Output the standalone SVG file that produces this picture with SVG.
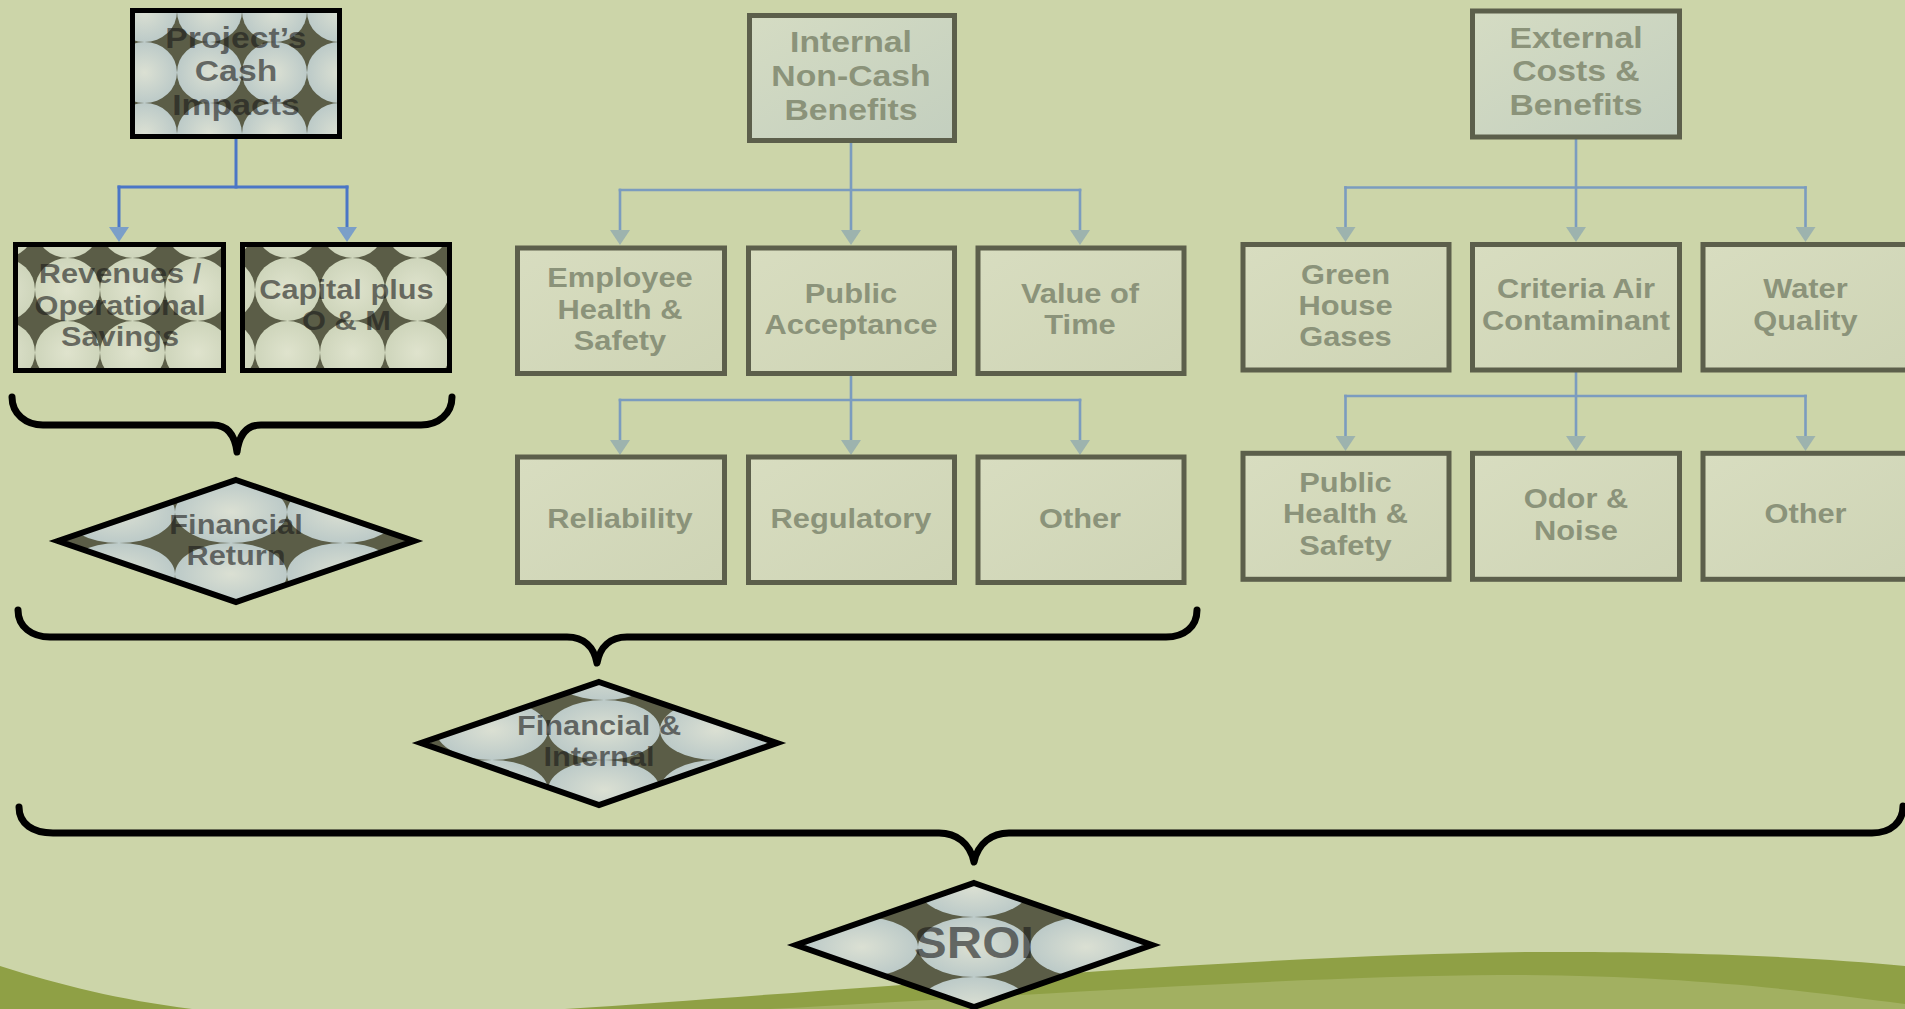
<svg xmlns="http://www.w3.org/2000/svg" width="1905" height="1009" viewBox="0 0 1905 1009">
  <style>
    .lbl { font-family: "Liberation Sans", Arial, sans-serif; font-weight: bold; text-anchor: middle; }
    .big { font-size: 30px; }
    .mid { font-size: 28px; }
    .huge { font-size: 45px; }
    .dim { fill: #8b937a; }
    .ink { fill: #1a1a1a; fill-opacity: 0.6; }
    .frame { stroke: #000; stroke-width: 5; }
    .soft { stroke: #5c5f4b; stroke-width: 5; }
    .gem { stroke: #000; stroke-width: 6; stroke-linejoin: miter; }
    .brace { fill: none; stroke: #000; stroke-width: 7; stroke-linecap: round; stroke-linejoin: round; }
    .wire { fill: none; stroke: #4a76c6; stroke-width: 3; stroke-linecap: square; }
    .wire-soft { fill: none; stroke: #7b9cbf; stroke-width: 2.6; stroke-linecap: square; }
    .star { fill: #5b5d47; }
  </style>
  <defs>
    <radialGradient id="glowCool" cx="50%" cy="50%" r="50%">
      <stop offset="0" stop-color="#dbe0d3"/>
      <stop offset="1" stop-color="#bccac8"/>
    </radialGradient>
    <radialGradient id="glowWarm" cx="50%" cy="50%" r="50%">
      <stop offset="0" stop-color="#dfe3cd"/>
      <stop offset="1" stop-color="#ced5bb"/>
    </radialGradient>
    <linearGradient id="paleTop" x1="0" y1="0" x2="1" y2="1">
      <stop offset="0" stop-color="#d5dcc3"/>
      <stop offset="1" stop-color="#c3cfbf"/>
    </linearGradient>
    <linearGradient id="paleRow" x1="0" y1="0" x2="1" y2="1">
      <stop offset="0" stop-color="#d8ddc0"/>
      <stop offset="1" stop-color="#ced4b5"/>
    </linearGradient>
    <!-- circle tiles: light discs touching on a dark ground, dark four-point stars between -->
    <pattern id="tileProject" patternUnits="userSpaceOnUse" x="177" y="42" width="65" height="61">
      <rect class="star" width="65" height="61"/>
      <ellipse cx="32.5" cy="30.5" rx="32.5" ry="30.5" fill="url(#glowCool)"/>
    </pattern>
    <pattern id="tileRevenue" patternUnits="userSpaceOnUse" x="35" y="258" width="65" height="63">
      <rect class="star" width="65" height="63"/>
      <ellipse cx="32.5" cy="31.5" rx="32.5" ry="31.5" fill="url(#glowWarm)"/>
    </pattern>
    <pattern id="tileCapital" patternUnits="userSpaceOnUse" x="255" y="258" width="65" height="63">
      <rect class="star" width="65" height="63"/>
      <ellipse cx="32.5" cy="31.5" rx="32.5" ry="31.5" fill="url(#glowWarm)"/>
    </pattern>
    <pattern id="tileReturn" patternUnits="userSpaceOnUse" x="175" y="481" width="112" height="62">
      <rect class="star" width="112" height="62"/>
      <ellipse cx="56" cy="31" rx="56" ry="31" fill="url(#glowCool)"/>
    </pattern>
    <pattern id="tileInternal" patternUnits="userSpaceOnUse" x="548" y="700" width="112" height="60">
      <rect class="star" width="112" height="60"/>
      <ellipse cx="56" cy="30" rx="56" ry="30" fill="url(#glowCool)"/>
    </pattern>
    <pattern id="tileSroi" patternUnits="userSpaceOnUse" x="918" y="917" width="112" height="60">
      <rect class="star" width="112" height="60"/>
      <ellipse cx="56" cy="30" rx="56" ry="30" fill="url(#glowCool)"/>
    </pattern>
    <marker id="headStrong" markerUnits="userSpaceOnUse" viewBox="0 0 15 20" markerWidth="15" markerHeight="20" refX="0" refY="10" orient="auto">
      <path d="M0,0 L15,10 L0,20 Z" fill="#7b9fc8"/>
    </marker>
    <marker id="headSoft" markerUnits="userSpaceOnUse" viewBox="0 0 15 20" markerWidth="15" markerHeight="20" refX="0" refY="10" orient="auto">
      <path d="M0,0 L15,10 L0,20 Z" fill="#9db3ae"/>
    </marker>
  </defs>

  <!-- slide ground and hills -->
  <rect width="1905" height="1009" fill="#ccd5a9"/>
  <path d="M0,966 C60,985 120,1000 192,1009 L0,1009 Z" fill="#8fa045"/>
  <path d="M565,1009 C850,990 1250,955 1530,952 C1700,951 1820,958 1905,966 V1009 Z" fill="#8fa045"/>
  <path d="M770,1009 C1000,997 1300,976 1500,975 C1680,975 1800,990 1905,1004 V1009 Z" fill="#a2b061"/>

  <!-- connectors -->
  <g id="connectors">
    <path class="wire" d="M236,139 V187"/>
    <path class="wire" d="M119,187 H347"/>
    <path class="wire" d="M119,187 V227" marker-end="url(#headStrong)"/>
    <path class="wire" d="M347,187 V227" marker-end="url(#headStrong)"/>

    <path class="wire-soft" d="M851,143 V230" marker-end="url(#headSoft)"/>
    <path class="wire-soft" d="M620,190 H1080"/>
    <path class="wire-soft" d="M620,190 V230" marker-end="url(#headSoft)"/>
    <path class="wire-soft" d="M1080,190 V230" marker-end="url(#headSoft)"/>
    <path class="wire-soft" d="M851,376 V440" marker-end="url(#headSoft)"/>
    <path class="wire-soft" d="M620,400 H1080"/>
    <path class="wire-soft" d="M620,400 V440" marker-end="url(#headSoft)"/>
    <path class="wire-soft" d="M1080,400 V440" marker-end="url(#headSoft)"/>

    <path class="wire-soft" d="M1576,140 V227" marker-end="url(#headSoft)"/>
    <path class="wire-soft" d="M1345.5,187.5 H1805.5"/>
    <path class="wire-soft" d="M1345.5,187.5 V227" marker-end="url(#headSoft)"/>
    <path class="wire-soft" d="M1805.5,187.5 V227" marker-end="url(#headSoft)"/>
    <path class="wire-soft" d="M1576,372 V436" marker-end="url(#headSoft)"/>
    <path class="wire-soft" d="M1345.5,396 H1805.5"/>
    <path class="wire-soft" d="M1345.5,396 V436" marker-end="url(#headSoft)"/>
    <path class="wire-soft" d="M1805.5,396 V436" marker-end="url(#headSoft)"/>

    <path id="brace-cash" class="brace" d="M12,397 C12,414 26,425 43,425 H213 C228,425 235,436 237,452 C239,436 246,425 261,425 H421 C438,425 452,414 452,397"/>
    <path id="brace-internal" class="brace" d="M18,610 C18,627 32,637 50,637 H567 C584,637 594,647 597,663 C600,647 610,637 627,637 H1166 C1184,637 1197,627 1197,610"/>
    <path id="brace-all" class="brace" d="M19,807 C19,824 33,833 53,833 H939 C956,833 970,843 974,862 C978,843 992,833 1009,833 H1872 C1891,833 1903,822 1903,806"/>
  </g>

  <!-- cash column -->
  <g id="node-cash">
    <rect class="frame" x="132.5" y="10.5" width="207" height="126" fill="url(#tileProject)"/>
    <text class="lbl big ink" transform="translate(236 0) scale(1.125 1)"><tspan x="0" y="48">Project’s</tspan><tspan x="0" y="81.5">Cash</tspan><tspan x="0" y="115">Impacts</tspan></text>
  </g>
  <g id="node-revenues">
    <rect class="frame" x="15.5" y="244.5" width="208" height="126" fill="url(#tileRevenue)"/>
    <text class="lbl mid ink" transform="translate(120 0) scale(1.1 1)"><tspan x="0" y="283">Revenues /</tspan><tspan x="0" y="315">Operational</tspan><tspan x="0" y="346">Savings</tspan></text>
  </g>
  <g id="node-capital">
    <rect class="frame" x="242.5" y="244.5" width="207" height="126" fill="url(#tileCapital)"/>
    <text class="lbl mid ink" transform="translate(346.5 0) scale(1.1 1)"><tspan x="0" y="299">Capital plus</tspan><tspan x="0" y="330">O &amp; M</tspan></text>
  </g>
  <g id="node-financial-return">
    <polygon class="gem" points="236,480 414,541 236,602 58,541" fill="url(#tileReturn)"/>
    <text class="lbl mid ink" transform="translate(236 0) scale(1.1 1)"><tspan x="0" y="534">Financial</tspan><tspan x="0" y="565">Return</tspan></text>
  </g>
  <g id="node-financial-internal">
    <polygon class="gem" points="599,682 777,743 599,805 421,743" fill="url(#tileInternal)"/>
    <text class="lbl mid ink" transform="translate(599 0) scale(1.1 1)"><tspan x="0" y="735">Financial &amp;</tspan><tspan x="0" y="766">Internal</tspan></text>
  </g>
  <g id="node-sroi">
    <polygon class="gem" points="974,883 1152,945 974,1007 796,945" fill="url(#tileSroi)"/>
    <text class="lbl huge ink" transform="translate(974 0) scale(1.09 1)" x="0" y="958">SROI</text>
  </g>

  <!-- internal non-cash column -->
  <g id="node-internal">
    <rect class="soft" x="749.5" y="15.5" width="205" height="125" fill="url(#paleTop)"/>
    <text class="lbl big dim" transform="translate(851 0) scale(1.125 1)"><tspan x="0" y="52.5">Internal</tspan><tspan x="0" y="86">Non-Cash</tspan><tspan x="0" y="120">Benefits</tspan></text>
  </g>
  <g id="node-employee">
    <rect class="soft" x="517.5" y="248" width="207" height="125.5" fill="url(#paleRow)"/>
    <text class="lbl mid dim" transform="translate(620 0) scale(1.1 1)"><tspan x="0" y="287">Employee</tspan><tspan x="0" y="319">Health &amp;</tspan><tspan x="0" y="350">Safety</tspan></text>
  </g>
  <g id="node-public-acceptance">
    <rect class="soft" x="748.5" y="248" width="206" height="125.5" fill="url(#paleRow)"/>
    <text class="lbl mid dim" transform="translate(851 0) scale(1.1 1)"><tspan x="0" y="303">Public</tspan><tspan x="0" y="334">Acceptance</tspan></text>
  </g>
  <g id="node-value-time">
    <rect class="soft" x="978" y="248" width="206" height="125.5" fill="url(#paleRow)"/>
    <text class="lbl mid dim" transform="translate(1080 0) scale(1.1 1)"><tspan x="0" y="303">Value of</tspan><tspan x="0" y="334">Time</tspan></text>
  </g>
  <g id="node-reliability">
    <rect class="soft" x="517.5" y="457" width="207" height="125.5" fill="url(#paleRow)"/>
    <text class="lbl mid dim" transform="translate(620 0) scale(1.1 1)" x="0" y="528">Reliability</text>
  </g>
  <g id="node-regulatory">
    <rect class="soft" x="748.5" y="457" width="206" height="125.5" fill="url(#paleRow)"/>
    <text class="lbl mid dim" transform="translate(851 0) scale(1.1 1)" x="0" y="528">Regulatory</text>
  </g>
  <g id="node-internal-other">
    <rect class="soft" x="978" y="457" width="206" height="125.5" fill="url(#paleRow)"/>
    <text class="lbl mid dim" transform="translate(1080 0) scale(1.1 1)" x="0" y="528">Other</text>
  </g>

  <!-- external column -->
  <g id="node-external">
    <rect class="soft" x="1472.5" y="11" width="207" height="126" fill="url(#paleTop)"/>
    <text class="lbl big dim" transform="translate(1576 0) scale(1.125 1)"><tspan x="0" y="48">External</tspan><tspan x="0" y="81.5">Costs &amp;</tspan><tspan x="0" y="115">Benefits</tspan></text>
  </g>
  <g id="node-greenhouse">
    <rect class="soft" x="1243" y="244.5" width="206" height="125.5" fill="url(#paleRow)"/>
    <text class="lbl mid dim" transform="translate(1345.5 0) scale(1.1 1)"><tspan x="0" y="284">Green</tspan><tspan x="0" y="315.5">House</tspan><tspan x="0" y="346.5">Gases</tspan></text>
  </g>
  <g id="node-criteria-air">
    <rect class="soft" x="1472.5" y="244.5" width="207" height="125.5" fill="url(#paleRow)"/>
    <text class="lbl mid dim" transform="translate(1576 0) scale(1.1 1)"><tspan x="0" y="298.5">Criteria Air</tspan><tspan x="0" y="330">Contaminant</tspan></text>
  </g>
  <g id="node-water">
    <rect class="soft" x="1703" y="244.5" width="207" height="125.5" fill="url(#paleRow)"/>
    <text class="lbl mid dim" transform="translate(1805.5 0) scale(1.1 1)"><tspan x="0" y="298.5">Water</tspan><tspan x="0" y="330">Quality</tspan></text>
  </g>
  <g id="node-public-health">
    <rect class="soft" x="1243" y="453.3" width="206" height="126" fill="url(#paleRow)"/>
    <text class="lbl mid dim" transform="translate(1345.5 0) scale(1.1 1)"><tspan x="0" y="492.5">Public</tspan><tspan x="0" y="523.5">Health &amp;</tspan><tspan x="0" y="555">Safety</tspan></text>
  </g>
  <g id="node-odor">
    <rect class="soft" x="1472.5" y="453.3" width="207" height="126" fill="url(#paleRow)"/>
    <text class="lbl mid dim" transform="translate(1576 0) scale(1.1 1)"><tspan x="0" y="508">Odor &amp;</tspan><tspan x="0" y="540">Noise</tspan></text>
  </g>
  <g id="node-external-other">
    <rect class="soft" x="1703" y="453.3" width="207" height="126" fill="url(#paleRow)"/>
    <text class="lbl mid dim" transform="translate(1805.5 0) scale(1.1 1)" x="0" y="523.5">Other</text>
  </g>
</svg>
